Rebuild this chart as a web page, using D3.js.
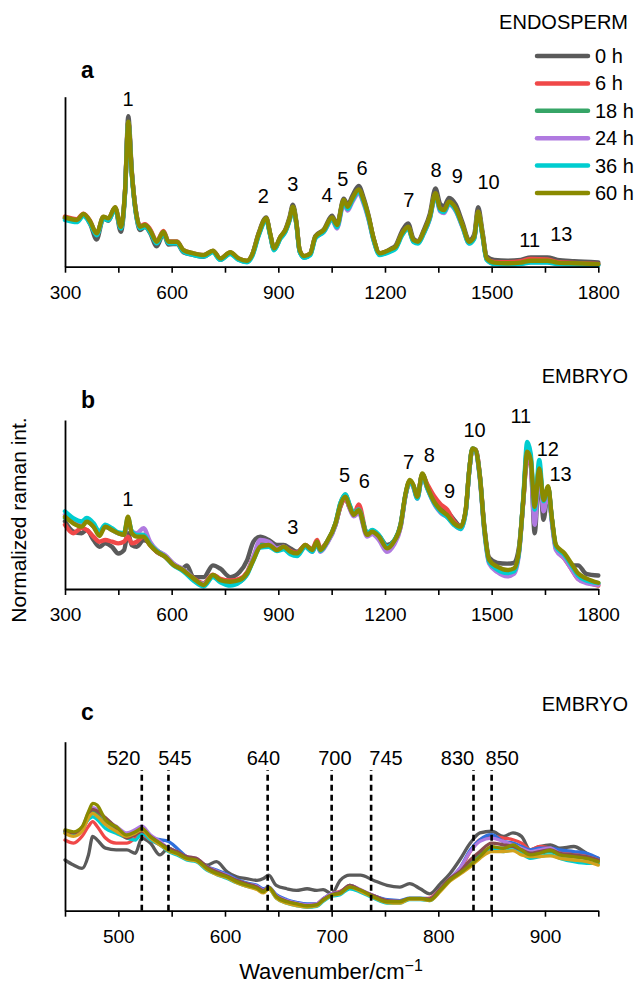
<!DOCTYPE html>
<html><head><meta charset="utf-8">
<script src="https://cdn.jsdelivr.net/npm/d3@7"></script>
<style>
body{margin:0;background:#fff}
svg{display:block}
text{font-family:"Liberation Sans",Arial,Helvetica,sans-serif;fill:#000}
</style>
</head><body>
<svg id="chart" width="642" height="984"></svg>
<script>
// ---------- shared ----------
const seriesNames = ["0 h","6 h","18 h","24 h","36 h","60 h"];
const seriesColors = ["#5a5a5a","#f04848","#36a567","#b07ae0","#00cdd0","#8a8a00"];

// ---------- panel a : ENDOSPERM ----------
const wA = [300,333,352,371,389,408,422,441,457,469,478,488,502,511,525,539,558,577,591,615,633,661,690,716,737,765,788,812,826,845,866,877,888,906,920,932,941,951,960,973,990,1004,1028,1051,1065,1084,1095,1108,1126,1140,1154,1168,1185,1201,1216,1230,1248,1265,1280,1293,1309,1326,1342,1355,1366,1380,1399,1418,1437,1451,1462,1474,1486,1507,1545,1582,1610,1657,1685,1732,1800];
const a0h = [0.285,0.27,0.305,0.25,0.16,0.285,0.27,0.345,0.205,0.44,0.885,0.56,0.28,0.215,0.235,0.2,0.12,0.195,0.13,0.135,0.085,0.07,0.058,0.088,0.04,0.08,0.042,0.03,0.068,0.2,0.29,0.19,0.1,0.175,0.22,0.295,0.365,0.26,0.09,0.055,0.075,0.18,0.22,0.3,0.25,0.4,0.365,0.415,0.475,0.405,0.3,0.165,0.078,0.088,0.105,0.125,0.21,0.255,0.165,0.15,0.215,0.31,0.46,0.37,0.355,0.405,0.365,0.26,0.155,0.19,0.35,0.21,0.06,0.04,0.035,0.04,0.055,0.055,0.04,0.032,0.025];
const a6h = [0.295,0.28,0.312,0.268,0.19,0.292,0.283,0.348,0.232,0.448,0.85,0.552,0.296,0.238,0.25,0.222,0.15,0.21,0.15,0.148,0.097,0.078,0.068,0.093,0.048,0.084,0.048,0.034,0.068,0.193,0.282,0.194,0.106,0.174,0.214,0.283,0.35,0.252,0.096,0.062,0.078,0.174,0.214,0.287,0.242,0.388,0.35,0.398,0.45,0.388,0.29,0.165,0.078,0.087,0.1,0.116,0.194,0.233,0.155,0.146,0.204,0.292,0.43,0.342,0.332,0.38,0.34,0.243,0.146,0.175,0.322,0.194,0.05,0.028,0.026,0.032,0.045,0.042,0.028,0.022,0.016];
const a18h = [0.285,0.27,0.305,0.26,0.19,0.29,0.28,0.345,0.23,0.445,0.85,0.545,0.29,0.23,0.24,0.21,0.143,0.2,0.143,0.143,0.094,0.075,0.065,0.09,0.045,0.08,0.045,0.031,0.065,0.19,0.28,0.19,0.103,0.17,0.21,0.28,0.348,0.25,0.093,0.058,0.074,0.17,0.21,0.284,0.24,0.386,0.346,0.395,0.448,0.385,0.287,0.16,0.074,0.083,0.097,0.113,0.19,0.23,0.152,0.142,0.2,0.288,0.426,0.337,0.327,0.376,0.337,0.24,0.142,0.17,0.318,0.19,0.045,0.02,0.017,0.02,0.03,0.03,0.02,0.017,0.012];
const a24h = [0.285,0.27,0.305,0.26,0.192,0.29,0.28,0.345,0.232,0.447,0.845,0.548,0.292,0.232,0.243,0.213,0.145,0.203,0.145,0.145,0.096,0.077,0.067,0.092,0.047,0.083,0.047,0.033,0.066,0.19,0.278,0.19,0.104,0.17,0.208,0.275,0.343,0.248,0.094,0.06,0.075,0.168,0.205,0.275,0.225,0.37,0.33,0.38,0.432,0.37,0.275,0.155,0.074,0.083,0.097,0.112,0.188,0.226,0.15,0.14,0.196,0.28,0.418,0.325,0.315,0.365,0.327,0.232,0.138,0.167,0.315,0.188,0.043,0.018,0.015,0.018,0.028,0.028,0.018,0.015,0.011];
const a36h = [0.275,0.262,0.298,0.252,0.185,0.283,0.273,0.338,0.225,0.44,0.845,0.54,0.283,0.225,0.235,0.205,0.137,0.196,0.137,0.137,0.088,0.069,0.059,0.084,0.04,0.075,0.04,0.026,0.058,0.183,0.275,0.185,0.097,0.165,0.205,0.275,0.345,0.245,0.088,0.052,0.068,0.165,0.205,0.28,0.232,0.38,0.34,0.39,0.443,0.38,0.282,0.155,0.068,0.077,0.09,0.106,0.184,0.224,0.146,0.136,0.195,0.283,0.422,0.332,0.322,0.37,0.332,0.235,0.136,0.165,0.315,0.185,0.04,0.015,0.012,0.016,0.025,0.025,0.015,0.012,0.008];
const a60h = [0.29,0.275,0.31,0.265,0.196,0.294,0.285,0.35,0.235,0.45,0.853,0.55,0.294,0.235,0.245,0.216,0.147,0.206,0.147,0.147,0.098,0.079,0.069,0.094,0.049,0.085,0.049,0.035,0.069,0.196,0.285,0.196,0.108,0.176,0.216,0.285,0.353,0.255,0.098,0.063,0.079,0.176,0.216,0.29,0.245,0.392,0.353,0.402,0.455,0.392,0.294,0.167,0.079,0.088,0.102,0.118,0.196,0.235,0.157,0.147,0.206,0.294,0.432,0.343,0.333,0.382,0.343,0.245,0.147,0.176,0.324,0.196,0.049,0.024,0.02,0.024,0.035,0.035,0.024,0.02,0.015];
const peaksA = ["1","2","3","4","5","6","7","8","9","10","11","13"];
const peaksAx = [477.5,857.7,940.8,1037,1081.7,1135.8,1267,1343.6,1403.3,1491.5,1607,1695.8];
const peaksAy = [0.945,0.376,0.445,0.382,0.475,0.539,0.349,0.529,0.49,0.457,0.118,0.153];

// ---------- panel b : EMBRYO ----------
const wB = [300,323,347,361,380,397,413,432,450,466,477,488,502,521,539,558,582,605,629,643,661,690,716,737,765,791,812,830,849,873,896,915,934,953,976,995,1009,1018,1037,1061,1075,1089,1100,1112,1126,1150,1164,1183,1206,1225,1244,1258,1270,1280,1291,1305,1319,1338,1357,1375,1394,1413,1427,1437,1446,1455,1467,1479,1493,1516,1544,1563,1577,1589,1600,1610,1621,1634,1646,1659,1669,1681,1705,1724,1743,1766,1800];
const b0h = [0.40,0.34,0.33,0.35,0.29,0.25,0.27,0.25,0.21,0.23,0.33,0.26,0.25,0.29,0.27,0.22,0.195,0.15,0.12,0.14,0.07,0.07,0.14,0.12,0.07,0.10,0.17,0.28,0.31,0.29,0.26,0.26,0.24,0.22,0.255,0.235,0.27,0.235,0.275,0.38,0.49,0.535,0.485,0.44,0.46,0.33,0.335,0.315,0.26,0.285,0.385,0.56,0.64,0.61,0.55,0.68,0.61,0.53,0.49,0.46,0.41,0.37,0.46,0.70,0.83,0.825,0.67,0.38,0.185,0.155,0.15,0.155,0.25,0.52,0.79,0.74,0.33,0.69,0.41,0.59,0.42,0.25,0.2,0.14,0.14,0.09,0.08];
const b6h = [0.38,0.33,0.36,0.35,0.31,0.28,0.29,0.28,0.27,0.28,0.31,0.27,0.28,0.31,0.26,0.22,0.19,0.145,0.115,0.095,0.065,0.035,0.085,0.06,0.05,0.06,0.10,0.19,0.27,0.265,0.235,0.25,0.225,0.215,0.26,0.235,0.29,0.24,0.28,0.385,0.49,0.535,0.485,0.44,0.50,0.325,0.34,0.31,0.24,0.275,0.37,0.555,0.635,0.605,0.555,0.675,0.62,0.55,0.50,0.47,0.40,0.37,0.46,0.70,0.825,0.825,0.665,0.37,0.17,0.125,0.10,0.115,0.225,0.52,0.78,0.73,0.46,0.70,0.52,0.60,0.42,0.24,0.18,0.12,0.06,0.04,0.02];
const b18h = [0.42,0.40,0.38,0.40,0.37,0.33,0.37,0.35,0.33,0.33,0.40,0.34,0.32,0.32,0.27,0.23,0.195,0.145,0.12,0.10,0.06,0.03,0.075,0.05,0.035,0.045,0.09,0.18,0.26,0.265,0.235,0.245,0.215,0.205,0.255,0.225,0.275,0.225,0.275,0.39,0.51,0.56,0.50,0.445,0.46,0.32,0.335,0.305,0.235,0.275,0.375,0.56,0.64,0.61,0.54,0.675,0.60,0.51,0.455,0.43,0.385,0.365,0.465,0.70,0.83,0.82,0.66,0.365,0.165,0.12,0.095,0.11,0.225,0.53,0.83,0.77,0.45,0.73,0.50,0.60,0.42,0.245,0.195,0.135,0.075,0.045,0.03];
const b24h = [0.44,0.40,0.38,0.41,0.37,0.33,0.37,0.35,0.33,0.32,0.40,0.34,0.33,0.36,0.28,0.23,0.2,0.15,0.12,0.10,0.06,0.03,0.075,0.045,0.035,0.045,0.09,0.19,0.29,0.28,0.24,0.25,0.215,0.205,0.25,0.22,0.27,0.22,0.27,0.38,0.50,0.55,0.48,0.43,0.45,0.31,0.325,0.29,0.22,0.26,0.365,0.555,0.635,0.60,0.535,0.67,0.595,0.505,0.45,0.425,0.38,0.355,0.455,0.695,0.825,0.815,0.65,0.35,0.15,0.10,0.075,0.09,0.21,0.52,0.82,0.74,0.38,0.71,0.46,0.58,0.40,0.23,0.18,0.12,0.06,0.035,0.025];
const b36h = [0.46,0.42,0.40,0.42,0.39,0.34,0.38,0.36,0.335,0.33,0.42,0.34,0.32,0.32,0.265,0.225,0.19,0.14,0.11,0.085,0.05,0.015,0.07,0.04,0.02,0.04,0.085,0.17,0.245,0.25,0.225,0.235,0.205,0.195,0.25,0.22,0.27,0.225,0.28,0.39,0.51,0.56,0.50,0.45,0.47,0.33,0.35,0.32,0.25,0.285,0.38,0.56,0.635,0.605,0.535,0.675,0.595,0.51,0.455,0.425,0.38,0.355,0.455,0.70,0.83,0.82,0.66,0.36,0.16,0.115,0.095,0.105,0.22,0.54,0.87,0.80,0.47,0.763,0.52,0.60,0.42,0.25,0.20,0.14,0.08,0.05,0.035];
const b60h = [0.428,0.389,0.369,0.398,0.369,0.314,0.369,0.349,0.33,0.32,0.428,0.33,0.31,0.31,0.26,0.221,0.191,0.142,0.116,0.093,0.063,0.024,0.083,0.053,0.043,0.053,0.093,0.172,0.25,0.26,0.231,0.25,0.221,0.211,0.26,0.231,0.28,0.231,0.28,0.389,0.50,0.546,0.49,0.438,0.467,0.32,0.339,0.31,0.241,0.28,0.379,0.566,0.645,0.615,0.546,0.684,0.605,0.517,0.467,0.438,0.389,0.369,0.467,0.704,0.832,0.822,0.664,0.369,0.172,0.132,0.112,0.122,0.231,0.527,0.812,0.763,0.487,0.714,0.527,0.609,0.428,0.26,0.211,0.152,0.093,0.063,0.037];
const peaksB = ["1","3","5","6","7","8","9","10","11","12","13"];
const peaksBx = [477,941,1086,1142,1266,1325,1382,1452,1582,1658,1694];
const peaksBy = [0.491,0.325,0.635,0.598,0.71,0.753,0.538,0.901,0.982,0.787,0.641];

// ---------- panel c : EMBRYO zoom 450-950 ----------
const wC = [450,458,466,472,476,480,488,498,508,516,522,530,539,547,555,564,573,583,592,602,611,620,630,636,641,648,658,667,677,686,692,700,708,717,727,739,752,764,773,783,792,802,811,820,830,839,850,861,870,878,886,895,905,914,927,939,950];
const c0h = [0.30,0.27,0.25,0.33,0.44,0.42,0.37,0.36,0.36,0.34,0.43,0.40,0.33,0.37,0.34,0.31,0.30,0.27,0.29,0.23,0.20,0.19,0.18,0.19,0.21,0.15,0.13,0.12,0.13,0.12,0.125,0.10,0.18,0.21,0.21,0.18,0.15,0.14,0.16,0.13,0.10,0.16,0.22,0.30,0.40,0.46,0.47,0.44,0.46,0.44,0.36,0.38,0.39,0.37,0.38,0.34,0.30];
const c6h = [0.418,0.40,0.44,0.50,0.527,0.50,0.43,0.40,0.40,0.43,0.45,0.42,0.39,0.36,0.34,0.31,0.295,0.255,0.225,0.205,0.175,0.155,0.14,0.125,0.135,0.09,0.06,0.045,0.035,0.04,0.07,0.10,0.115,0.14,0.12,0.09,0.06,0.055,0.07,0.07,0.075,0.13,0.19,0.24,0.35,0.42,0.44,0.43,0.42,0.40,0.36,0.38,0.37,0.35,0.34,0.33,0.31];
const c18h = [0.46,0.45,0.48,0.56,0.59,0.58,0.52,0.48,0.45,0.46,0.48,0.43,0.40,0.36,0.34,0.31,0.30,0.25,0.225,0.20,0.175,0.155,0.14,0.12,0.14,0.085,0.055,0.04,0.03,0.035,0.065,0.095,0.105,0.15,0.12,0.085,0.055,0.05,0.07,0.07,0.065,0.125,0.185,0.225,0.28,0.33,0.37,0.37,0.38,0.35,0.33,0.34,0.35,0.33,0.32,0.31,0.30];
const c24h = [0.47,0.46,0.49,0.58,0.61,0.60,0.54,0.50,0.46,0.48,0.50,0.45,0.41,0.37,0.35,0.32,0.31,0.26,0.235,0.21,0.18,0.16,0.145,0.125,0.14,0.09,0.06,0.045,0.035,0.04,0.07,0.10,0.11,0.15,0.125,0.09,0.06,0.055,0.07,0.07,0.07,0.13,0.19,0.25,0.35,0.41,0.43,0.41,0.39,0.37,0.35,0.36,0.37,0.34,0.33,0.32,0.30];
const c36h = [0.467,0.458,0.49,0.54,0.556,0.54,0.487,0.458,0.43,0.418,0.458,0.42,0.39,0.35,0.33,0.30,0.29,0.24,0.215,0.19,0.165,0.145,0.13,0.11,0.13,0.075,0.045,0.03,0.02,0.025,0.055,0.085,0.095,0.13,0.11,0.075,0.045,0.045,0.065,0.065,0.06,0.12,0.18,0.22,0.27,0.32,0.36,0.35,0.36,0.34,0.31,0.32,0.33,0.31,0.29,0.28,0.28];
const c60h = [0.478,0.467,0.497,0.586,0.635,0.625,0.537,0.497,0.448,0.467,0.487,0.438,0.399,0.359,0.34,0.31,0.30,0.251,0.221,0.201,0.172,0.152,0.133,0.112,0.138,0.083,0.053,0.04,0.028,0.034,0.063,0.093,0.103,0.14,0.122,0.083,0.053,0.053,0.073,0.073,0.063,0.122,0.182,0.221,0.27,0.32,0.379,0.369,0.389,0.359,0.33,0.34,0.359,0.33,0.32,0.31,0.29];
const cBlue = [0.47,0.46,0.48,0.55,0.58,0.57,0.52,0.49,0.45,0.46,0.47,0.43,0.42,0.41,0.37,0.32,0.30,0.26,0.24,0.215,0.185,0.165,0.15,0.13,0.14,0.095,0.065,0.05,0.04,0.04,0.07,0.10,0.11,0.14,0.12,0.09,0.065,0.06,0.075,0.075,0.07,0.13,0.19,0.25,0.36,0.42,0.45,0.41,0.40,0.38,0.36,0.37,0.37,0.36,0.35,0.34,0.31];
const cBrown = [0.47,0.46,0.49,0.57,0.60,0.59,0.55,0.49,0.43,0.45,0.47,0.44,0.40,0.37,0.35,0.32,0.31,0.26,0.23,0.205,0.18,0.16,0.14,0.12,0.135,0.085,0.055,0.04,0.03,0.035,0.065,0.095,0.11,0.15,0.12,0.09,0.06,0.055,0.07,0.07,0.07,0.13,0.19,0.23,0.30,0.35,0.40,0.39,0.38,0.36,0.34,0.35,0.36,0.34,0.33,0.32,0.30];
const cGold = [0.458,0.44,0.47,0.55,0.576,0.56,0.51,0.47,0.44,0.46,0.48,0.43,0.39,0.355,0.335,0.305,0.295,0.245,0.215,0.195,0.165,0.145,0.125,0.105,0.13,0.075,0.045,0.03,0.022,0.028,0.06,0.09,0.10,0.14,0.115,0.08,0.048,0.045,0.068,0.068,0.06,0.115,0.175,0.215,0.26,0.31,0.35,0.35,0.355,0.33,0.32,0.32,0.325,0.31,0.30,0.29,0.27];
const dashX = [522,547,640,700,737,833,850];
const dashText = ["520","545","640","700","745","830","850"];
const dashTextX = [505,553,636,703,751,818,860];

// ---------- drawing ----------
const svg = d3.select("#chart");
const FONT = '"Liberation Sans",Arial,Helvetica,sans-serif';

function drawPanel(o) {
  const g = svg.append("g");
  const x = d3.scaleLinear().domain(o.xDomain).range([65, 598.3]);
  const y = d3.scaleLinear().domain([0, 1]).range(o.yRange);
  const line = d3.line().x(d => x(d[0])).y(d => y(d[1])).curve(d3.curveMonotoneX);

  o.series.forEach(s => {
    g.append("path")
      .datum(o.grid.map((w, i) => [w, s.values[i]]))
      .attr("d", line)
      .attr("fill", "none")
      .attr("stroke", s.color)
      .attr("stroke-width", o.lw)
      .attr("stroke-linejoin", "round")
      .attr("stroke-linecap", "round");
  });

  const xa = d3.axisBottom(x).tickValues(o.ticks).tickSize(6).tickSizeOuter(0)
    .tickFormat(d => o.labels.includes(d) ? d : "");
  const gx = g.append("g").attr("transform", `translate(0,${y(0)})`).call(xa);
  gx.select(".domain").attr("stroke-width", 1.8);
  gx.selectAll(".tick line").attr("stroke-width", 1.6);
  gx.selectAll(".tick text").attr("y", 32).attr("dy", 0)
    .style("font-family", FONT).style("font-size", "19px").attr("fill", "#000");
  const ya = d3.axisLeft(y).tickValues([]).tickSizeOuter(0);
  const gy = g.append("g").attr("transform", `translate(${x(o.xDomain[0])},0)`).call(ya);
  gy.select(".domain").attr("stroke-width", 1.8);

  g.append("text").attr("x", 81).attr("y", o.letterY).text(o.letter)
    .style("font-size", "23px").style("font-weight", "bold");
  g.append("text").attr("x", 628).attr("y", o.titleY).attr("text-anchor", "end")
    .text(o.title).style("font-size", "20px");

  if (o.peaks) {
    o.peaks.forEach((t, i) => {
      g.append("text").attr("x", x(o.peaksX[i])).attr("y", y(o.peaksY[i]))
        .attr("text-anchor", "middle").text(t).style("font-size", "20px");
    });
  }
  return {g, x, y};
}

drawPanel({
  xDomain: [300, 1800], yRange: [266.7, 96.7], grid: wA, lw: 4.4,
  ticks: [300,450,600,750,900,1050,1200,1350,1500,1650,1800],
  labels: [300,600,900,1200,1500,1800],
  series: [a0h,a6h,a18h,a24h,a36h,a60h].map((v, i) => ({values: v, color: seriesColors[i]})),
  letter: "a", letterY: 78, title: "ENDOSPERM", titleY: 29,
  peaks: peaksA, peaksX: peaksAx, peaksY: peaksAy
});

drawPanel({
  xDomain: [300, 1800], yRange: [589, 420], grid: wB, lw: 4.4,
  ticks: [300,450,600,750,900,1050,1200,1350,1500,1650,1800],
  labels: [300,600,900,1200,1500,1800],
  series: [b0h,b6h,b18h,b24h,b36h,b60h].map((v, i) => ({values: v, color: seriesColors[i]})),
  letter: "b", letterY: 408, title: "EMBRYO", titleY: 383,
  peaks: peaksB, peaksX: peaksBx, peaksY: peaksBy
});

const pc = drawPanel({
  xDomain: [450, 950], yRange: [910.7, 741.7], grid: wC, lw: 3.3,
  ticks: [450,500,550,600,650,700,750,800,850,900,950],
  labels: [500,600,700,800,900],
  series: [
    {values: c0h, color: seriesColors[0]},
    {values: c6h, color: seriesColors[1]},
    {values: cBlue, color: "#2f6fdc"},
    {values: c18h, color: seriesColors[2]},
    {values: c24h, color: seriesColors[3]},
    {values: c36h, color: seriesColors[4]},
    {values: cBrown, color: "#8a4d4d"},
    {values: cGold, color: "#d2a21c"},
    {values: c60h, color: seriesColors[5]}
  ],
  letter: "c", letterY: 720, title: "EMBRYO", titleY: 711
});
dashX.forEach((d, i) => {
  pc.g.append("line")
    .attr("x1", pc.x(d)).attr("x2", pc.x(d))
    .attr("y1", pc.y(0)).attr("y2", pc.y(0.833))
    .attr("stroke", "#000").attr("stroke-width", 2.6)
    .attr("stroke-dasharray", "6,4");
  pc.g.append("text").attr("x", pc.x(dashTextX[i])).attr("y", pc.y(0.863))
    .attr("text-anchor", "middle").text(dashText[i]).style("font-size", "20px");
});

const lg = svg.append("g");
seriesNames.forEach((n, i) => {
  const cy = 56 + i * 27.4;
  lg.append("line").attr("x1", 537).attr("x2", 588).attr("y1", cy).attr("y2", cy)
    .attr("stroke", seriesColors[i]).attr("stroke-width", 4.5).attr("stroke-linecap", "round");
  lg.append("text").attr("x", 595).attr("y", cy + 7).text(n).style("font-size", "20px");
});

svg.append("text").attr("transform", "translate(26,520) rotate(-90)")
  .attr("text-anchor", "middle").text("Normalized raman int.").style("font-size", "21px");

const xl = svg.append("text").attr("x", 331).attr("y", 979).attr("text-anchor", "middle")
  .style("font-size", "22px");
xl.append("tspan").text("Wavenumber/cm");
xl.append("tspan").text("\u22121").attr("dy", -8).style("font-size", "16px");
</script>
</body></html>
